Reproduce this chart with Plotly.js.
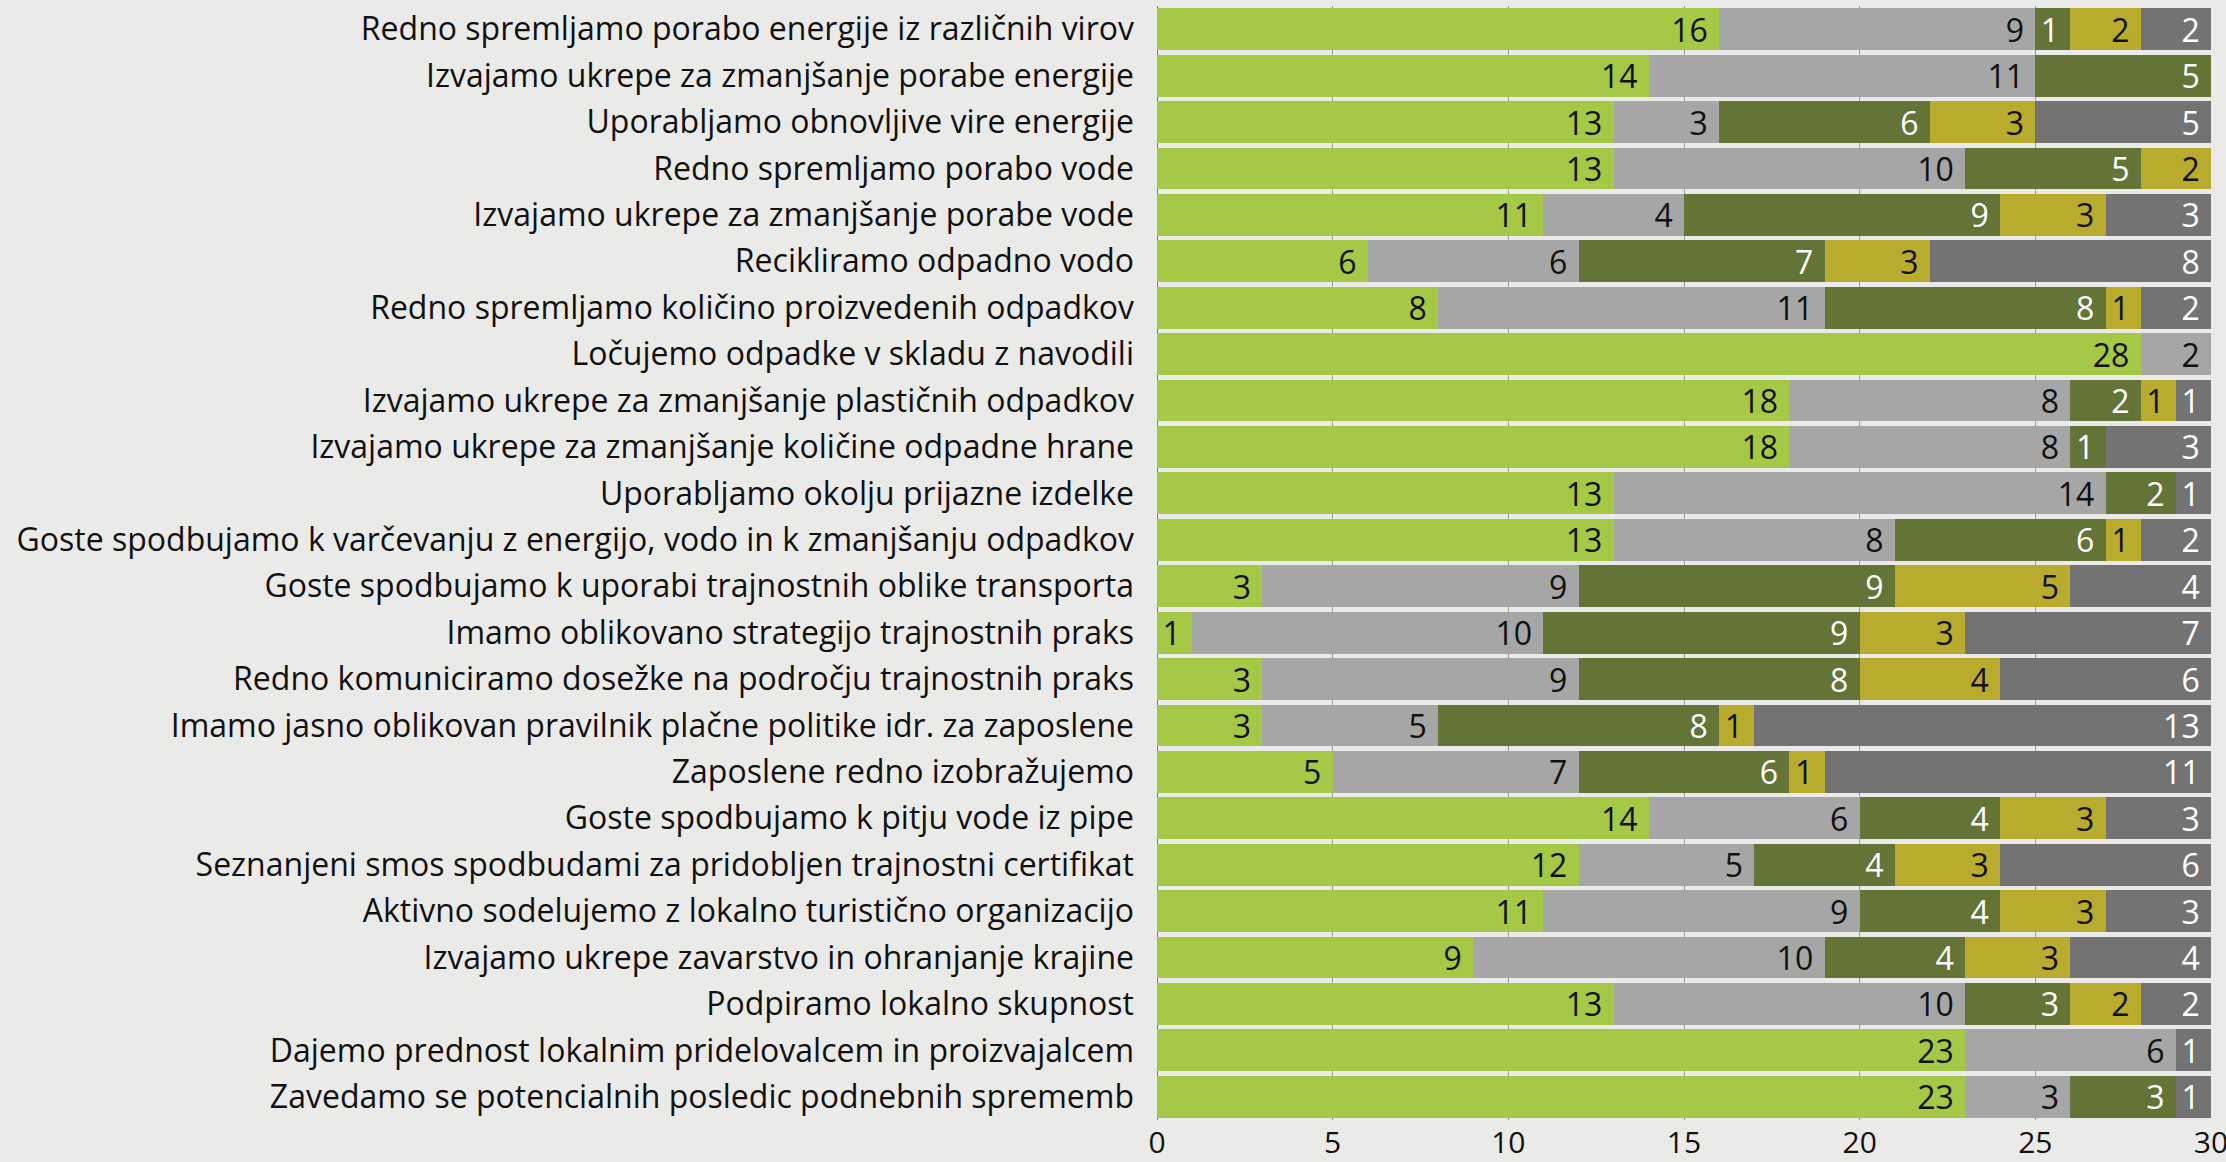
<!DOCTYPE html>
<html>
<head>
<meta charset="utf-8">
<script src="https://cdn.plot.ly/plotly-3.0.1.min.js"></script>
<style>
html,body{margin:0;padding:0;background:#eaeae8;}
#chart{width:2226px;height:1162px;}
</style>
</head>
<body>
<div id="chart"></div>
<script>
const categories = [
  "Redno spremljamo porabo energije iz različnih virov",
  "Izvajamo ukrepe za zmanjšanje porabe energije",
  "Uporabljamo obnovljive vire energije",
  "Redno spremljamo porabo vode",
  "Izvajamo ukrepe za zmanjšanje porabe vode",
  "Recikliramo odpadno vodo",
  "Redno spremljamo količino proizvedenih odpadkov",
  "Ločujemo odpadke v skladu z navodili",
  "Izvajamo ukrepe za zmanjšanje plastičnih odpadkov",
  "Izvajamo ukrepe za zmanjšanje količine odpadne hrane",
  "Uporabljamo okolju prijazne izdelke",
  "Goste spodbujamo k varčevanju z energijo, vodo in k zmanjšanju odpadkov",
  "Goste spodbujamo k uporabi trajnostnih oblike transporta",
  "Imamo oblikovano strategijo trajnostnih praks",
  "Redno komuniciramo dosežke na področju trajnostnih praks",
  "Imamo jasno oblikovan pravilnik plačne politike idr. za zaposlene",
  "Zaposlene redno izobražujemo",
  "Goste spodbujamo k pitju vode iz pipe",
  "Seznanjeni smos spodbudami za pridobljen trajnostni certifikat",
  "Aktivno sodelujemo z lokalno turistično organizacijo",
  "Izvajamo ukrepe zavarstvo in ohranjanje krajine",
  "Podpiramo lokalno skupnost",
  "Dajemo prednost lokalnim pridelovalcem in proizvajalcem",
  "Zavedamo se potencialnih posledic podnebnih sprememb"
];

const seriesA = [16,14,13,13,11,6,8,28,18,18,13,13,3,1,3,3,5,14,12,11,9,13,23,23];
const seriesB = [9,11,3,10,4,6,11,2,8,8,14,8,9,10,9,5,7,6,5,9,10,10,6,3];
const seriesC = [1,5,6,5,9,7,8,0,2,1,2,6,9,9,8,8,6,4,4,4,4,3,0,3];
const seriesD = [2,0,3,2,3,3,1,0,1,0,0,1,5,3,4,1,1,3,3,3,3,2,0,0];
const seriesE = [2,0,5,0,3,8,2,0,1,3,1,2,4,7,6,13,11,3,6,3,4,2,1,1];

const tickVals = [0,5,10,15,20,25,30];

const seriesList = [
  {name:"A", values:seriesA, color:"#a5c846", text:"#111111"},
  {name:"B", values:seriesB, color:"#a6a6a6", text:"#111111"},
  {name:"C", values:seriesC, color:"#637436", text:"#ffffff"},
  {name:"D", values:seriesD, color:"#b9ab2e", text:"#111111"},
  {name:"E", values:seriesE, color:"#737373", text:"#ffffff"}
];

const traces = seriesList.map(s => ({
  type:"bar",
  orientation:"h",
  name:s.name,
  y:categories,
  x:s.values,
  text:s.values.map(v => v > 0 ? String(v) + "\u00a0" : ""),
  textposition:"inside",
  insidetextanchor:"end",
  textangle:0,
  constraintext:"none",
  insidetextfont:{family:"Open Sans", size:32, color:s.text},
  marker:{color:s.color, line:{width:0}},
  hoverinfo:"none"
}));

const layout = {
  width:2226,
  height:1162,
  barmode:"stack",
  bargap:0.1,
  showlegend:false,
  paper_bgcolor:"#eaeae8",
  plot_bgcolor:"rgba(0,0,0,0)",
  margin:{l:1157, r:15, t:6, b:42, pad:0},
  font:{family:"Open Sans", color:"#111111"},
  xaxis:{
    range:[0,30],
    tickvals:tickVals,
    ticktext:tickVals.map(String),
    tickfont:{family:"Open Sans", size:30, color:"#111111"},
    ticklabeloverflow:"allow",
    ticklabelstandoff:2,
    showgrid:true,
    gridcolor:"#9a9a9a",
    gridwidth:1,
    zeroline:true,
    zerolinecolor:"#777777",
    zerolinewidth:1,
    showline:false,
    ticks:"",
    fixedrange:true
  },
  yaxis:{
    type:"category",
    autorange:"reversed",
    tickfont:{family:"Open Sans", size:32, color:"#111111"},
    ticks:"",
    ticklabelstandoff:22,
    showgrid:false,
    zeroline:false,
    showline:false,
    automargin:false,
    fixedrange:true
  }
};

Plotly.newPlot("chart", traces, layout, {displayModeBar:false, staticPlot:true});
</script>
</body>
</html>
